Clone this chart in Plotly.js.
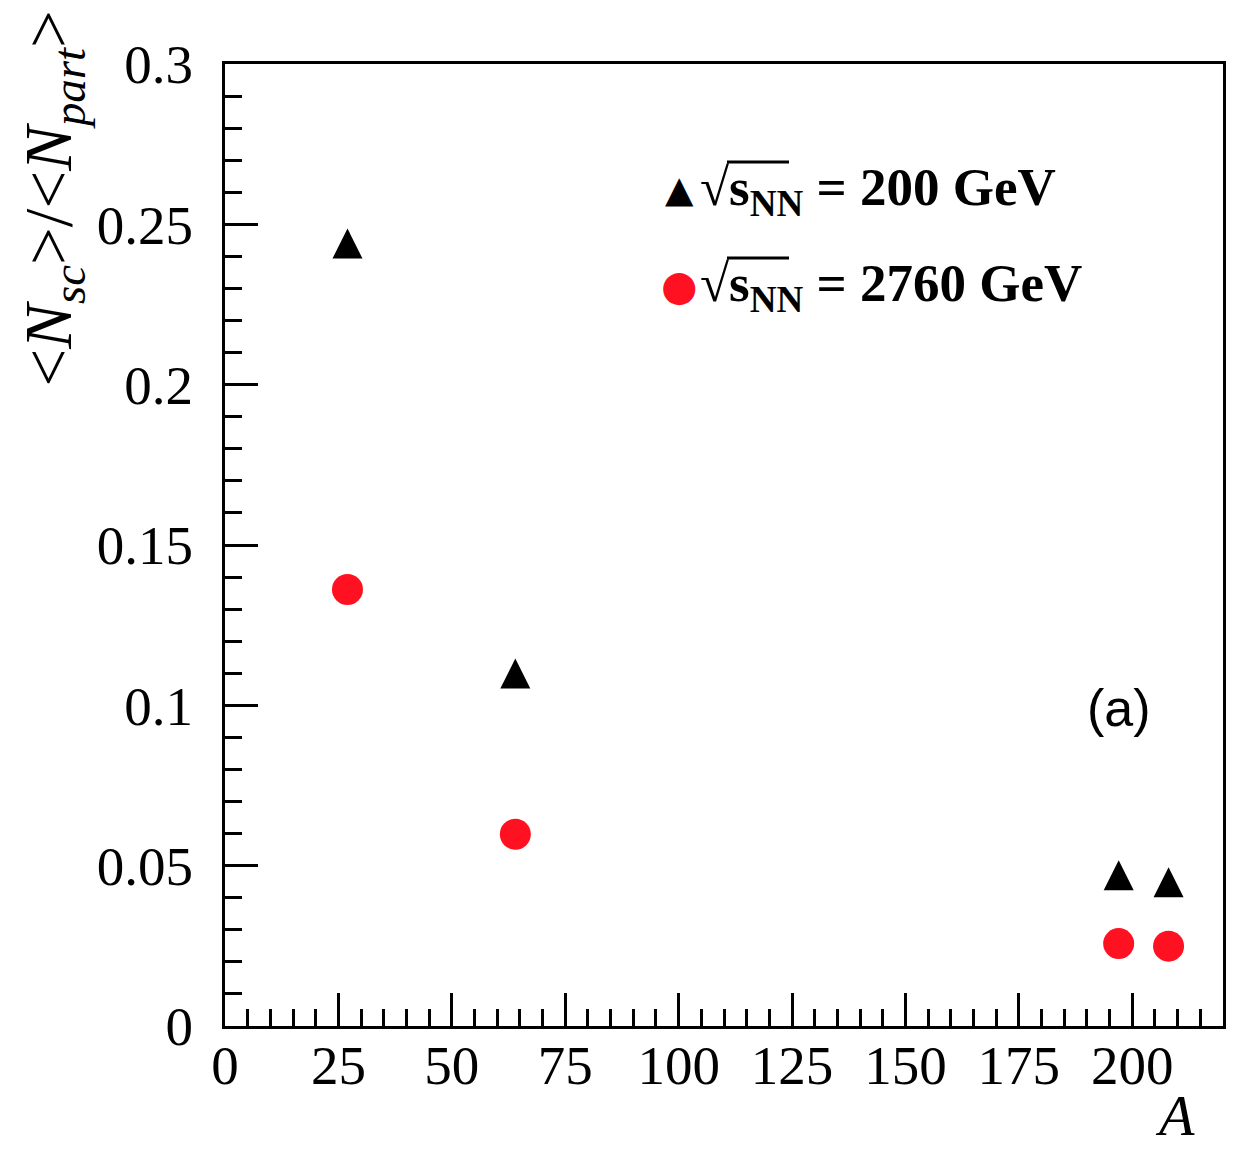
<!DOCTYPE html>
<html>
<head>
<meta charset="utf-8">
<script src="https://cdn.plot.ly/plotly-3.0.1.min.js"></script>
<style>html,body{margin:0;padding:0;background:#fff;}</style>
</head>
<body>
<div id="chart" style="width:1246px;height:1152px;"></div>
<script>
// Mass number A of the colliding nuclei (Al, Cu, Au, Pb)
const massNumber = [27, 64, 197, 208];
// <N_sc>/<N_part> at sqrt(s_NN) = 200 GeV
const ratio200 = [0.2440, 0.1099, 0.0470, 0.0448];
// <N_sc>/<N_part> at sqrt(s_NN) = 2760 GeV
const ratio2760 = [0.1361, 0.0598, 0.0257, 0.0249];

const xTickVals = [0, 25, 50, 75, 100, 125, 150, 175, 200];
const xTickText = ['0', '25', '50', '75', '100', '125', '150', '175', '200'];
const yTickVals = [0, 0.05, 0.1, 0.15, 0.2, 0.25, 0.3];
const yTickText = ['0', '0.05', '0.1', '0.15', '0.2', '0.25', '0.3'];

const serif = 'Liberation Serif, Times New Roman, serif';

const traces = [
  {
    x: massNumber, y: ratio200, type: 'scatter', mode: 'markers',
    name: '200 GeV',
    marker: {symbol: 'arrow-down', angle: 180, standoff: 15, size: 30, color: '#000000', line: {width: 0}},
    showlegend: false, hoverinfo: 'x+y'
  },
  {
    x: massNumber, y: ratio2760, type: 'scatter', mode: 'markers',
    name: '2760 GeV',
    marker: {symbol: 'circle', size: 31, color: '#ff1122', line: {width: 0}},
    showlegend: false, hoverinfo: 'x+y'
  }
];

const axisCommon = {
  showgrid: false, zeroline: false,
  showline: true, linewidth: 3, linecolor: '#000', mirror: true,
  ticks: 'inside', tickwidth: 3, tickcolor: '#000', ticklen: 33,
  tickfont: {family: serif, size: 55, color: '#000'}
};

const layout = {
  width: 1246, height: 1152,
  margin: {l: 225, r: 23, t: 64, b: 126, pad: 0},
  paper_bgcolor: '#ffffff', plot_bgcolor: '#ffffff',
  showlegend: false,
  xaxis: Object.assign({}, axisCommon, {
    range: [0, 220], tickmode: 'array', tickvals: xTickVals, ticktext: xTickText,
    ticklabelstandoff: -11,
    minor: {dtick: 5, tick0: 0, ticks: 'inside', ticklen: 17, tickwidth: 3, tickcolor: '#000', showgrid: false}
  }),
  yaxis: Object.assign({}, axisCommon, {
    range: [0, 0.3], tickmode: 'array', tickvals: yTickVals, ticktext: yTickText,
    ticklabelstandoff: 18,
    minor: {dtick: 0.01, tick0: 0, ticks: 'inside', ticklen: 17, tickwidth: 3, tickcolor: '#000', showgrid: false}
  }),
  annotations: [
    {
      xref: 'paper', yref: 'paper', x: -0.172, y: 1.058, xanchor: 'center', yanchor: 'top',
      textangle: -90, showarrow: false,
      text: '&lt;<i>N</i><sub><i>sc</i></sub>&gt;/&lt;<i>N</i><sub><i>part</i></sub>&gt;',
      font: {family: serif, size: 67, color: '#000'}
    },
    {
      xref: 'paper', yref: 'paper', x: 0.974, y: (1026 - 1150) / 962, xanchor: 'right', yanchor: 'bottom',
      showarrow: false, text: '<i>A</i>',
      font: {family: serif, size: 58, color: '#000'}
    },
    {
      xref: 'paper', yref: 'paper', x: 0.8958, y: 0.3306, xanchor: 'center', yanchor: 'middle',
      showarrow: false, text: '(a)',
      font: {family: 'Liberation Sans, Arial, sans-serif', size: 52, color: '#000'}
    },
    {
      xref: 'paper', yref: 'paper', x: (679 - 225) / 998, y: (1026 - 189) / 962, xanchor: 'center', yanchor: 'middle',
      showarrow: false, text: '▲',
      font: {family: 'DejaVu Sans', size: 37, color: '#000'}
    },
    {
      xref: 'paper', yref: 'paper', x: (679 - 225) / 998, y: (1026 - 285) / 962, xanchor: 'center', yanchor: 'middle',
      showarrow: false, text: '●',
      font: {family: 'DejaVu Sans', size: 42, color: '#ff1122'}
    },
    {
      xref: 'paper', yref: 'paper', x: (698 - 225) / 998, y: (1026 - 191) / 962, xanchor: 'left', yanchor: 'middle',
      showarrow: false, text: '<b>√s<sub>NN</sub> = 200 GeV</b>',
      font: {family: serif, size: 53, color: '#000'}
    },
    {
      xref: 'paper', yref: 'paper', x: (698 - 225) / 998, y: (1026 - 287) / 962, xanchor: 'left', yanchor: 'middle',
      showarrow: false, text: '<b>√s<sub>NN</sub> = 2760 GeV</b>',
      font: {family: serif, size: 53, color: '#000'}
    }
  ],
  shapes: [
    {type: 'line', xref: 'paper', yref: 'paper', x0: (727 - 225) / 998, x1: (789 - 225) / 998,
     y0: (1026 - 162) / 962, y1: (1026 - 162) / 962, line: {color: '#000', width: 3}},
    {type: 'line', xref: 'paper', yref: 'paper', x0: (727 - 225) / 998, x1: (789 - 225) / 998,
     y0: (1026 - 258) / 962, y1: (1026 - 258) / 962, line: {color: '#000', width: 3}}
  ]
};

Plotly.newPlot('chart', traces, layout, {staticPlot: true, displayModeBar: false});
</script>
</body>
</html>
